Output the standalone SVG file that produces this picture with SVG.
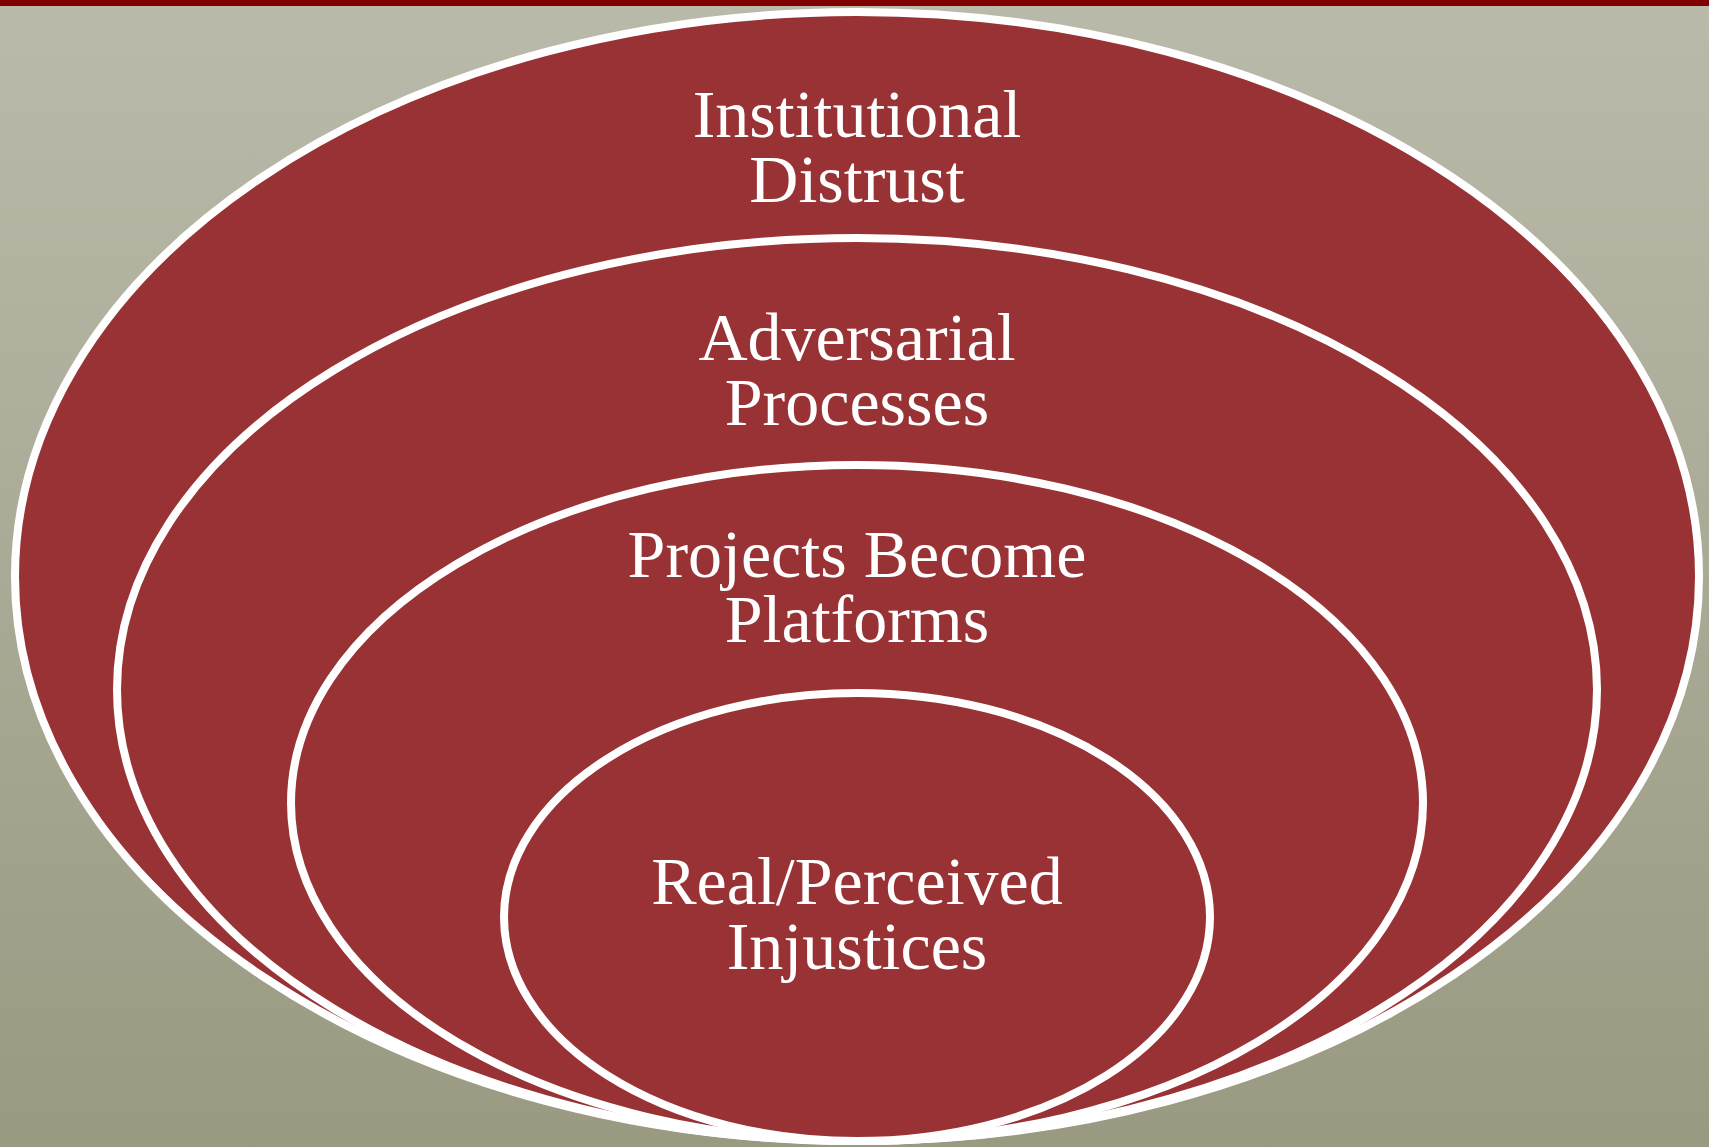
<svg xmlns="http://www.w3.org/2000/svg" width="1709" height="1147" viewBox="0 0 1709 1147">
<defs>
<linearGradient id="bg" x1="0" y1="0" x2="0" y2="1">
<stop offset="0" stop-color="#b9baaa"/>
<stop offset="1" stop-color="#9a9a82"/>
</linearGradient>
</defs>
<style>
.ring{fill:#993234;stroke:#ffffff;stroke-width:8}
.lbl{font-family:"Liberation Serif","Times New Roman",serif;font-size:68px;fill:#ffffff;text-anchor:middle}
</style>
<rect x="0" y="0" width="1709" height="1147" fill="url(#bg)"/>
<rect x="0" y="0" width="1709" height="6" fill="#800000"/>
<g id="institutional-distrust">
<ellipse class="ring" cx="857" cy="576.5" rx="842" ry="564.5"/>
<text class="lbl" x="857" y="137">Institutional</text>
<text class="lbl" x="857" y="202">Distrust</text>
</g>
<g id="adversarial-processes">
<ellipse class="ring" cx="857" cy="689.5" rx="740" ry="451.5"/>
<text class="lbl" x="857" y="360">Adversarial</text>
<text class="lbl" x="857" y="425">Processes</text>
</g>
<g id="projects-become-platforms">
<ellipse class="ring" cx="857" cy="803" rx="566" ry="338"/>
<text class="lbl" x="857" y="577">Projects Become</text>
<text class="lbl" x="857" y="642">Platforms</text>
</g>
<g id="real-perceived-injustices">
<ellipse class="ring" cx="857" cy="917" rx="353" ry="224"/>
<text class="lbl" x="857" y="904">Real/Perceived</text>
<text class="lbl" x="857" y="969">Injustices</text>
</g>
<g id="connectors"/>
</svg>
